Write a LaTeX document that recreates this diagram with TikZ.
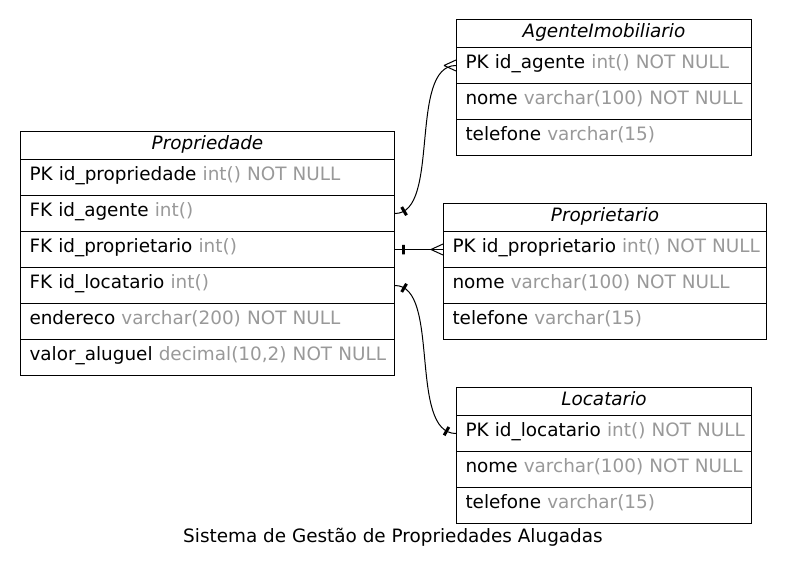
\documentclass[tikz,border=0pt]{standalone}
\usepackage{fontspec}
\setmainfont{DejaVu Sans}
\usetikzlibrary{calc}
\definecolor{typegray}{RGB}{153,153,153}
\newcommand{\tg}[1]{\textcolor{typegray}{#1}}
\newcommand{\diagfont}{\fontsize{18.4}{22}\selectfont}
\tikzset{
  tbl/.style={draw, line width=1pt, anchor=north west, inner ysep=0pt},
  hdr/.style={tbl, inner xsep=0pt, minimum width=#1, minimum height=28, text height=13, text depth=4.5, font=\diagfont\itshape},
  fld/.style={tbl, inner xsep=9pt, minimum height=36, text width=#1-18, align=left, text height=12, text depth=7},
  rel/.style={line width=1pt},
  tick/.style={draw, line width=3pt, inner sep=0pt, minimum width=0pt, minimum height=9.5pt, shape=rectangle, fill=black},
}
\begin{document}
\begin{tikzpicture}[x=1pt,y=-1pt,font=\diagfont]
\useasboundingbox (0,0) rectangle (785,573);
\fill[white] (0,0) rectangle (785,573);
% Propriedade
\node[hdr=374] (ph) at (20,131) {Propriedade};
\node[fld=374] (p1) at (20,159) {\mbox{PK id\_propriedade \tg{int() NOT NULL}}};
\node[fld=374] (p2) at (20,195) {\mbox{FK id\_agente \tg{int()}}};
\node[fld=374] (p3) at (20,231) {\mbox{FK id\_proprietario \tg{int()}}};
\node[fld=374] (p4) at (20,267) {\mbox{FK id\_locatario \tg{int()}}};
\node[fld=374] (p5) at (20,303) {\mbox{endereco \tg{varchar(200) NOT NULL}}};
\node[fld=374] (p6) at (20,339) {\mbox{valor\_aluguel \tg{decimal(10,2) NOT NULL}}};
% AgenteImobiliario
\node[hdr=295] (ah) at (456,19) {AgenteImobiliario};
\node[fld=295] (a1) at (456,47) {\mbox{PK id\_agente \tg{int() NOT NULL}}};
\node[fld=295] (a2) at (456,83) {\mbox{nome \tg{varchar(100) NOT NULL}}};
\node[fld=295] (a3) at (456,119) {\mbox{telefone \tg{varchar(15)}}};
% Proprietario
\node[hdr=323] (rh) at (443,203) {Proprietario};
\node[fld=323] (r1) at (443,231) {\mbox{PK id\_proprietario \tg{int() NOT NULL}}};
\node[fld=323] (r2) at (443,267) {\mbox{nome \tg{varchar(100) NOT NULL}}};
\node[fld=323] (r3) at (443,303) {\mbox{telefone \tg{varchar(15)}}};
% Locatario
\node[hdr=295] (lh) at (456,387) {Locatario};
\node[fld=295] (l1) at (456,415) {\mbox{PK id\_locatario \tg{int() NOT NULL}}};
\node[fld=295] (l2) at (456,451) {\mbox{nome \tg{varchar(100) NOT NULL}}};
\node[fld=295] (l3) at (456,487) {\mbox{telefone \tg{varchar(15)}}};
% title
\node[anchor=base] (title) at (393,542) {Sistema de Gestão de Propriedades Alugadas};
% relations
\draw[rel] (p2.east) .. controls +(46,0) and +(-48,0) .. (a1.west)
  node[pos=0.075, sloped, tick] (t1) {};
\draw[rel] ([xshift=-12pt]a1.west) -- ([yshift=5.5pt]a1.west)
           ([xshift=-12pt]a1.west) -- ([yshift=-5.5pt]a1.west);
\draw[rel] (p3.east) -- (r1.west) node[pos=0.17, tick] (t2) {};
\draw[rel] ([xshift=-12pt]r1.west) -- ([yshift=5.5pt]r1.west)
           ([xshift=-12pt]r1.west) -- ([yshift=-5.5pt]r1.west);
\draw[rel] (p4.east) .. controls +(46,0) and +(-48,0) .. (l1.west)
  node[pos=0.075, sloped, tick] (t3) {}
  node[pos=0.925, sloped, tick] (t4) {};
\end{tikzpicture}
\end{document}
